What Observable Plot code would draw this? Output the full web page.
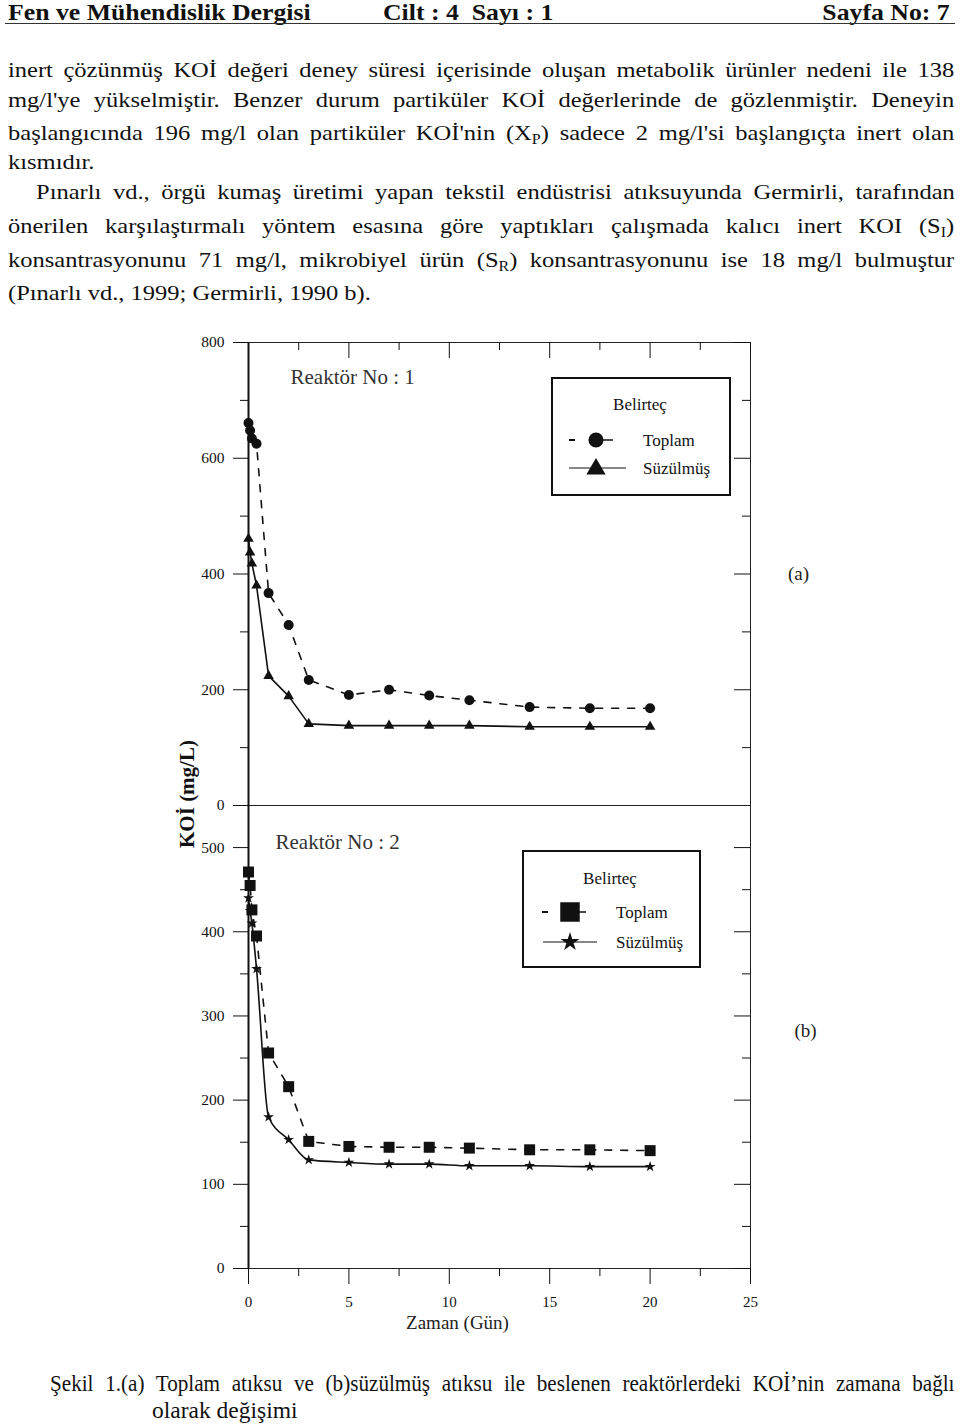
<!DOCTYPE html>
<html><head><meta charset="utf-8">
<script src="https://cdn.jsdelivr.net/npm/d3@7"></script>
<script src="https://cdn.jsdelivr.net/npm/@observablehq/plot@0.6"></script>
<style>
body{margin:0;background:#fff;width:960px;height:1424px;position:relative;overflow:hidden;font-family:"Liberation Serif","Times New Roman",serif;color:#111;}
.hd{position:absolute;top:0;font-weight:bold;font-size:23px;line-height:26px;white-space:nowrap;transform:scaleX(1.12);transform-origin:0 0;}
.hd.r{transform-origin:100% 0;}
.rule{position:absolute;left:5px;width:950px;top:23px;height:0;border-top:1.5px solid #333;}
.ln{position:absolute;left:8px;width:830px;font-size:21.5px;line-height:30px;text-align:justify;text-align-last:justify;transform:scaleX(1.14);transform-origin:0 0;}
.ln.last{text-align-last:left;}
sub{font-size:14px;vertical-align:-4px;line-height:0;}
.cap{position:absolute;font-size:23.5px;line-height:28px;}
.chart{position:absolute;left:178px;}
.leg{position:absolute;}
.ylab{position:absolute;left:187px;top:794px;transform:translate(-50%,-50%) rotate(-90deg);font-weight:bold;font-size:21px;white-space:nowrap;}
</style></head>
<body>
<div class="hd" style="left:8px">Fen ve Mühendislik Dergisi</div>
<div class="hd" style="left:383px">Cilt : 4&nbsp; Sayı : 1</div>
<div class="hd r" style="right:10px">Sayfa No: 7</div>
<div class="rule"></div>

<div class="ln" style="top:55px">inert çözünmüş KOİ değeri deney süresi içerisinde oluşan metabolik ürünler nedeni ile 138</div>
<div class="ln" style="top:85px">mg/l'ye yükselmiştir. Benzer durum partiküler KOİ değerlerinde de gözlenmiştir. Deneyin</div>
<div class="ln" style="top:118px">başlangıcında 196 mg/l olan partiküler KOİ'nin (X<sub>P</sub>) sadece 2 mg/l'si başlangıçta inert olan</div>
<div class="ln last" style="top:147px">kısmıdır.</div>
<div class="ln" style="top:177px;left:36px;width:806px">Pınarlı vd., örgü kumaş üretimi yapan tekstil endüstrisi atıksuyunda Germirli, tarafından</div>
<div class="ln" style="top:211px">önerilen karşılaştırmalı yöntem esasına göre yaptıkları çalışmada kalıcı inert KOI (S<sub>I</sub>)</div>
<div class="ln" style="top:245px">konsantrasyonunu 71 mg/l, mikrobiyel ürün (S<sub>R</sub>) konsantrasyonunu ise 18 mg/l bulmuştur</div>
<div class="ln last" style="top:278px">(Pınarlı vd., 1999; Germirli, 1990 b).</div>

<div id="p1" class="chart" style="top:330px"></div>
<div id="p2" class="chart" style="top:795px"></div>
<div class="ylab">KOİ (mg/L)</div>
<div id="leg1" class="leg" style="left:551px;top:377px"></div>
<div id="leg2" class="leg" style="left:522px;top:850px"></div>

<div class="cap" style="left:50px;width:1005px;top:1369px;text-align:justify;text-align-last:justify;transform:scaleX(0.9);transform-origin:0 0">Şekil 1.(a) Toplam atıksu ve (b)süzülmüş atıksu ile beslenen reaktörlerdeki KOİ’nin zamana bağlı</div>
<div class="cap" style="left:152px;top:1396px">olarak değişimi</div>

<script>
// ---- data ----
const days = [0, 0.08, 0.17, 0.4, 1, 2, 3, 5, 7, 9, 11, 14, 17, 20];
const toplam1   = [661, 648, 634, 625, 367, 312, 217, 191, 200, 190, 182, 170, 168, 168];
const suzulmus1 = [461, 437, 418, 380, 224, 189, 141, 138, 138, 138, 138, 136, 136, 136];
const toplam2   = [471, 455, 426, 395, 256, 216, 151, 145, 144, 144, 143, 141, 141, 140];
const suzulmus2 = [440, 425, 410, 356, 180, 153, 129, 126, 124, 124, 122, 122, 121, 121];

const xMajor = [0, 5, 10, 15, 20, 25];
const xMinor = [2.5, 7.5, 12.5, 17.5, 22.5];
const y1Major = [0, 200, 400, 600, 800];
const y1Minor = [100, 300, 500, 700];
const y2Major = [0, 100, 200, 300, 400, 500];
const y2Minor = [50, 150, 250, 350, 450];

const seriesNames = ["Toplam", "Süzülmüş"];
const legendTitle = "Belirteç";
const panelTitles = ["Reaktör No : 1", "Reaktör No : 2"];
const panelTags = ["(a)", "(b)"];
const xLabel = "Zaman (Gün)";

// ---- layout ----
const W = 660, ML = 70, MR = 88, FW = W - ML - MR, FH = 463;
const INK = "#111";
const none = () => "";

function panel(o) {
  const rows = days.map((d, i) => ({day: d, tot: o.tot[i], suz: o.suz[i]}));
  const marks = [
    Plot.frame({stroke: "#222", strokeWidth: 1}),
    Plot.ruleX([0], {stroke: INK, strokeWidth: 2}),
    // left axis (outward ticks)
    Plot.axisY(o.yMajor, {anchor: "left", tickSize: 15, tickPadding: 9, fontSize: 15.5, label: null}),
    Plot.axisY(o.yMinor, {anchor: "left", tickSize: 8, tickFormat: none, label: null}),
    // right axis (inward ticks)
    Plot.axisY(o.yMajor, {anchor: "left", tickSize: 16, dx: FW, tickFormat: none, label: null}),
    Plot.axisY(o.yMinor, {anchor: "left", tickSize: 8, dx: FW, tickFormat: none, label: null}),
    Plot.line(rows, {x: "day", y: "tot", stroke: INK, strokeWidth: 1.6, strokeDasharray: "7,9"}),
    Plot.line(rows, {x: "day", y: "suz", stroke: INK, strokeWidth: 1.6, curve: o.curve}),
    Plot.dot(rows, {x: "day", y: "tot", symbol: o.totSym, r: o.totR, fill: INK, stroke: "none"}),
    Plot.dot(rows, {x: "day", y: "suz", symbol: o.suzSym, r: o.suzR, fill: INK, stroke: "none"}),
    Plot.text([o.title], {text: d => d, frameAnchor: "top-left", textAnchor: "start", lineAnchor: "middle", dx: o.titleDx, dy: o.titleDy, fontSize: 21, fill: "#333"}),
    Plot.text([o.tag], {text: d => d, frameAnchor: "top-right", textAnchor: "middle", lineAnchor: "middle", dx: o.tagDx, dy: o.tagDy, fontSize: 19, fill: "#222"})
  ];
  if (o.topTicks) {
    marks.push(
      Plot.axisX(xMajor, {anchor: "bottom", tickSize: 16, dy: -FH, tickFormat: none, label: null}),
      Plot.axisX(xMinor, {anchor: "bottom", tickSize: 8, dy: -FH, tickFormat: none, label: null})
    );
  }
  if (o.bottomAxis) {
    marks.push(
      Plot.axisX(xMajor, {anchor: "bottom", tickSize: 16, tickPadding: 12, fontSize: 15, label: null}),
      Plot.axisX(xMinor, {anchor: "bottom", tickSize: 8, tickFormat: none, label: null}),
      Plot.text([xLabel], {text: d => d, frameAnchor: "bottom", lineAnchor: "middle", dx: -42, dy: 54, fontSize: 19, fill: "#222"})
    );
  }
  return Plot.plot({
    width: W, height: o.mt + FH + o.mb,
    marginLeft: ML, marginRight: MR, marginTop: o.mt, marginBottom: o.mb,
    x: {domain: [0, 25], axis: null},
    y: {domain: o.yDomain, axis: null},
    style: {fontFamily: "'Liberation Serif', 'Times New Roman', serif", fontSize: "15px", background: "transparent", overflow: "visible", color: INK},
    marks
  });
}

document.getElementById("p1").append(panel({
  tot: toplam1, suz: suzulmus1, yDomain: [0, 800], yMajor: y1Major, yMinor: y1Minor,
  totSym: "circle", totR: 5, suzSym: "triangle", suzR: 3.9, curve: "linear",
  title: panelTitles[0], titleDx: 42, titleDy: 35, tag: panelTags[0], tagDx: 48, tagDy: 231,
  mt: 12, mb: 12, topTicks: true, bottomAxis: false
}));
document.getElementById("p2").append(panel({
  tot: toplam2, suz: suzulmus2, yDomain: [0, 550], yMajor: y2Major, yMinor: y2Minor,
  totSym: "square", totR: 6.2, suzSym: "star", suzR: 3.4, curve: "monotone-x",
  title: panelTitles[1], titleDx: 27, titleDy: 37, tag: panelTags[1], tagDx: 55, tagDy: 225,
  mt: 10, mb: 70, topTicks: false, bottomAxis: true
}));

// ---- legends (hand-drawn boxes) ----
function legend(el, w, h, totSym, totSize, suzSym, suzSize, rows) {
  const svg = d3.select(el).append("svg").attr("width", w).attr("height", h)
    .style("display", "block").style("overflow", "visible")
    .style("font-family", "'Liberation Serif', 'Times New Roman', serif");
  svg.append("rect").attr("x", 1).attr("y", 1).attr("width", w - 2).attr("height", h - 2)
    .attr("fill", "white").attr("stroke", INK).attr("stroke-width", 2);
  svg.append("text").attr("x", rows.titleX).attr("y", rows.titleY).attr("text-anchor", "middle")
    .attr("dy", "0.35em").attr("font-size", 17).attr("fill", INK).text(legendTitle);
  // Toplam row
  const g1 = svg.append("g").attr("transform", `translate(0,${rows.y1})`);
  g1.append("line").attr("x1", rows.dash0).attr("x2", rows.dash0 + 6).attr("stroke", INK).attr("stroke-width", 2);
  g1.append("line").attr("x1", rows.mx).attr("x2", rows.mx + rows.tail).attr("stroke", INK).attr("stroke-width", 1.5);
  g1.append("path").attr("transform", `translate(${rows.mx},0)`).attr("d", d3.symbol(totSym, totSize)()).attr("fill", INK);
  g1.append("text").attr("x", rows.tx).attr("dy", "0.35em").attr("font-size", 17).attr("fill", INK).text(seriesNames[0]);
  // Süzülmüş row
  const g2 = svg.append("g").attr("transform", `translate(0,${rows.y2})`);
  g2.append("line").attr("x1", rows.l0).attr("x2", rows.l1).attr("stroke", INK).attr("stroke-width", 1.2);
  g2.append("path").attr("transform", `translate(${rows.mx},${rows.suzDy})`).attr("d", d3.symbol(suzSym, suzSize)()).attr("fill", INK);
  g2.append("text").attr("x", rows.tx).attr("dy", "0.35em").attr("font-size", 17).attr("fill", INK).text(seriesNames[1]);
}
legend(document.getElementById("leg1"), 180, 119, d3.symbolCircle, 180, d3.symbolTriangle, 160,
  {titleX: 89, titleY: 27, y1: 63, y2: 91, dash0: 18, mx: 45, tail: 17, tx: 92, l0: 18, l1: 75, suzDy: 1});
legend(document.getElementById("leg2"), 179, 118, d3.symbolSquare, 380, d3.symbolStar, 110,
  {titleX: 88, titleY: 28, y1: 62, y2: 92, dash0: 20, mx: 48, tail: 16, tx: 94, l0: 21, l1: 75, suzDy: 0});
</script>
</body></html>
